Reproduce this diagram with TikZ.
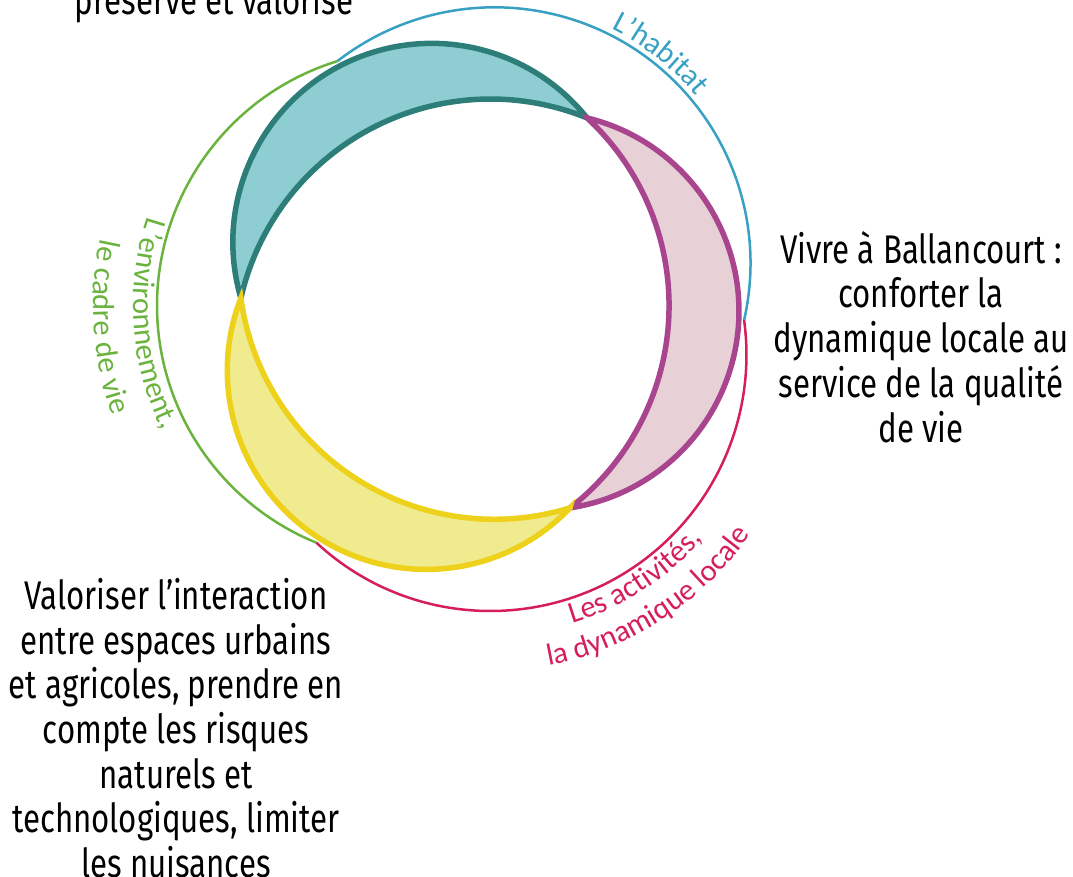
\documentclass[tikz,border=0pt]{standalone}
\usepackage{fontspec}
\setmainfont[FakeStretch=0.78]{Fira Sans}
\newfontfamily\labelfont{Carlito}
\newcommand{\lblfmt}{\labelfont\fontsize{30.5}{35}\selectfont}
\usetikzlibrary{calc,decorations.text}

\definecolor{envgreen}{HTML}{6AB43E}
\definecolor{habblue}{HTML}{37A0C3}
\definecolor{actred}{HTML}{D51F5B}
\definecolor{tealline}{HTML}{2D7D79}
\definecolor{tealfill}{HTML}{8ECDD2}
\definecolor{plumline}{HTML}{A9448F}
\definecolor{plumfill}{HTML}{E8D1D6}
\definecolor{sunline}{HTML}{EDD11B}
\definecolor{sunfill}{HTML}{F0EB8E}

\begin{document}
\begin{tikzpicture}[x=1pt,y=1pt,
        ring/.style={line width=2.5pt},
        moon/.style={line width=5.5pt},
        bigtext/.style={font=\fontsize{40}{44.7}\selectfont, align=center, inner sep=0pt}]
        \clip (0,0) rectangle (1073,876);

        % Centres
        \coordinate (O) at (466,568);
        \coordinate (gc) at ($(O)+(177.5:53)$);
        \coordinate (bc) at ($(O)+(57.5:53)$);
        \coordinate (rc) at ($(O)+(-62.5:53)$);

        % Tips of the crescents
        \coordinate (tA) at ($(O)+(177.5:225.35)$);
        \coordinate (tB) at ($(O)+(57.5:225.35)$);
        \coordinate (tC) at ($(O)+(-62.5:225.35)$);

        % Rings
        \draw[ring,envgreen] (gc) ++(107.17:256) arc[start angle=107.17, end angle=247.83, radius=256];
        \draw[ring,habblue] (bc) ++(-12.83:256) arc[start angle=-12.83, end angle=127.83, radius=256];
        \draw[ring,actred] (rc) ++(227.17:256) arc[start angle=227.17, end angle=367.83, radius=256];

        % Crescents
        \filldraw[moon,draw=tealline,fill=tealfill] (tA) arc[start angle=196.31, end angle=38.69, radius=198.94]
            arc[start angle=67.83, end angle=167.17, radius=256] -- cycle;
        \filldraw[moon,draw=plumline,fill=plumfill] (tB) arc[start angle=76.31, end angle=-81.31, radius=198.94]
            arc[start angle=-52.17, end angle=47.17, radius=256] -- cycle;
        \filldraw[moon,draw=sunline,fill=sunfill] (tC) arc[start angle=316.31, end angle=158.69, radius=198.94]
            arc[start angle=187.83, end angle=287.17, radius=256] -- cycle;

        % Ring labels
        \path[decorate,decoration={text along path,text align=center,
            text={|\lblfmt\color{habblue}|L’habitat}}]
            ($(bc)+(86.6:262)$) arc[start angle=86.6, end angle=16.6, radius=262];
        \path[decorate,decoration={text along path,text align=center,
            text={|\lblfmt\color{envgreen}|L’environnement,}}]
            ($(gc)+(149:280)$) arc[start angle=149, end angle=219, radius=280];
        \path[decorate,decoration={text along path,text align=center,
            text={|\lblfmt\color{envgreen}|le cadre de vie}}]
            ($(gc)+(149:320)$) arc[start angle=149, end angle=219, radius=320];
        \path[decorate,decoration={text along path,text align=center,
            text={|\lblfmt\color{actred}|Les activités,}}]
            ($(rc)+(-97:281)$) arc[start angle=-97, end angle=-17, radius=281];
        \path[decorate,decoration={text along path,text align=center,
            text={|\lblfmt\color{actred}|la dynamique locale}}]
            ($(rc)+(-97:316)$) arc[start angle=-97, end angle=-17, radius=316];

        % Themes
        \node[bigtext,anchor=base] (preserve) at (214,861) {préservé et valorisé};
        \node[bigtext,anchor=north] (vivre) at (921,645) {Vivre à Ballancourt :\\conforter la\\dynamique locale au\\service de la qualité\\de vie};
        \node[bigtext,anchor=north] (valoriser) at (176,298) {Valoriser l'interaction\\entre espaces urbains\\et agricoles, prendre en\\compte les risques\\naturels et\\technologiques, limiter\\les nuisances};
    \end{tikzpicture}
\end{document}
